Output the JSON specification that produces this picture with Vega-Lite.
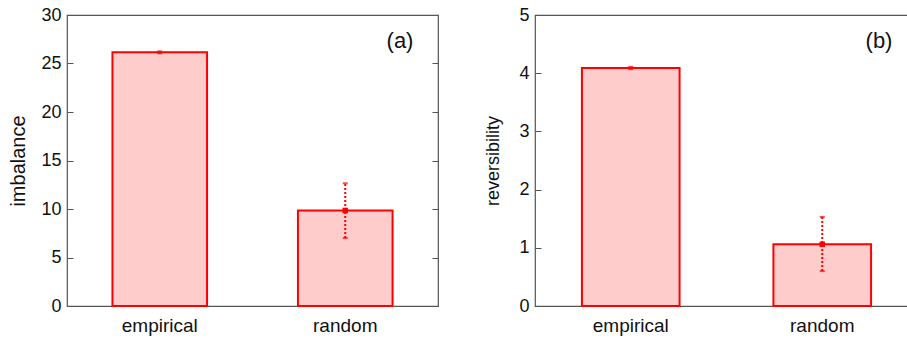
{
  "$schema": "https://vega.github.io/schema/vega-lite/v6.json",
  "padding": {"left": 8, "top": 5, "right": 0, "bottom": 0},
  "background": "white",
  "config": {
    "font": "Liberation Sans",
    "view": {"stroke": "#555555", "strokeWidth": 1.2},
    "axis": {"grid": false, "labelFont": "Liberation Sans", "titleFont": "Liberation Sans", "labelColor": "#111", "titleColor": "#111"},
    "concat": {"spacing": 44}
  },
  "datasets": {
    "bars": [
      {"panel": "a", "cat": "empirical", "value": 26.15, "lo": 26.05, "hi": 26.25},
      {"panel": "a", "cat": "random", "value": 9.85, "lo": 7.0, "hi": 12.65},
      {"panel": "b", "cat": "empirical", "value": 4.09, "lo": 4.07, "hi": 4.11},
      {"panel": "b", "cat": "random", "value": 1.06, "lo": 0.6, "hi": 1.53}
    ],
    "labels": [
      {"panel": "a", "label": "(a)"},
      {"panel": "b", "label": "(b)"}
    ]
  },
  "hconcat": [
    {
      "width": 371,
      "height": 291,
      "resolve": {"axis": {"y": "independent"}},
      "layer": [
        {
          "data": {"name": "bars"},
          "transform": [{"filter": "datum.panel == 'a'"}],
          "mark": {"type": "bar", "fill": "#ffcccc", "stroke": "#ff0000", "strokeWidth": 2},
          "encoding": {
            "x": {"field": "cat", "type": "nominal", "scale": {"paddingInner": 0.49, "paddingOuter": 0.245}, "axis": {"title": null, "labelAngle": 0, "ticks": false, "domain": false, "labelFontSize": 19, "labelPadding": 10}},
            "y": {"field": "value", "type": "quantitative", "scale": {"domain": [0, 30], "nice": false}, "axis": {"title": "imbalance", "titleFontSize": 20, "titleFontWeight": "normal", "labelFontSize": 18, "values": [0, 5, 10, 15, 20, 25, 30], "tickSize": -6, "tickColor": "#555", "domain": false, "labelPadding": 12, "titlePadding": 12}}
          }
        },
        {
          "data": {"name": "bars"},
          "transform": [{"filter": "datum.panel == 'a'"}],
          "mark": {"type": "rule", "stroke": "#ff0000", "strokeWidth": 2, "strokeDash": [2, 2]},
          "encoding": {
            "x": {"field": "cat", "type": "nominal"},
            "y": {"field": "lo", "type": "quantitative", "axis": {"orient": "right", "title": null, "labels": false, "values": [0, 5, 10, 15, 20, 25, 30], "tickSize": -6, "tickColor": "#555", "domain": false}},
            "y2": {"field": "hi"}
          }
        },
        {
          "data": {"name": "bars"},
          "transform": [{"filter": "datum.panel == 'a'"}],
          "mark": {"type": "tick", "color": "#ff0000", "thickness": 2, "size": 5, "orient": "horizontal"},
          "encoding": {
            "x": {"field": "cat", "type": "nominal"},
            "y": {"field": "lo", "type": "quantitative", "axis": null}
          }
        },
        {
          "data": {"name": "bars"},
          "transform": [{"filter": "datum.panel == 'a'"}],
          "mark": {"type": "tick", "color": "#ff0000", "thickness": 2, "size": 5, "orient": "horizontal"},
          "encoding": {
            "x": {"field": "cat", "type": "nominal"},
            "y": {"field": "hi", "type": "quantitative", "axis": null}
          }
        },
        {
          "data": {"name": "bars"},
          "transform": [{"filter": "datum.panel == 'a' && datum.cat == 'random'"}],
          "mark": {"type": "point", "shape": "square", "filled": true, "color": "#ff0000", "size": 30, "opacity": 1},
          "encoding": {
            "x": {"field": "cat", "type": "nominal"},
            "y": {"field": "value", "type": "quantitative", "axis": null}
          }
        },
        {
          "data": {"name": "labels"},
          "transform": [{"filter": "datum.panel == 'a'"}],
          "mark": {"type": "text", "fontSize": 22, "align": "center", "baseline": "middle", "color": "#111"},
          "encoding": {
            "x": {"value": 333},
            "y": {"value": 26},
            "text": {"field": "label"}
          }
        }
      ]
    },
    {
      "width": 383,
      "height": 291,
      "resolve": {"axis": {"y": "independent"}},
      "layer": [
        {
          "data": {"name": "bars"},
          "transform": [{"filter": "datum.panel == 'b'"}],
          "mark": {"type": "bar", "fill": "#ffcccc", "stroke": "#ff0000", "strokeWidth": 2},
          "encoding": {
            "x": {"field": "cat", "type": "nominal", "scale": {"paddingInner": 0.49, "paddingOuter": 0.245}, "axis": {"title": null, "labelAngle": 0, "ticks": false, "domain": false, "labelFontSize": 19, "labelPadding": 10}},
            "y": {"field": "value", "type": "quantitative", "scale": {"domain": [0, 5], "nice": false}, "axis": {"title": "reversibility", "titleFontSize": 18, "titleFontWeight": "normal", "labelFontSize": 18, "values": [0, 1, 2, 3, 4, 5], "tickSize": -6, "tickColor": "#555", "domain": false, "labelPadding": 12, "titlePadding": 16}}
          }
        },
        {
          "data": {"name": "bars"},
          "transform": [{"filter": "datum.panel == 'b'"}],
          "mark": {"type": "rule", "stroke": "#ff0000", "strokeWidth": 2, "strokeDash": [2, 2]},
          "encoding": {
            "x": {"field": "cat", "type": "nominal"},
            "y": {"field": "lo", "type": "quantitative", "axis": {"orient": "right", "title": null, "labels": false, "values": [0, 1, 2, 3, 4, 5], "tickSize": -6, "tickColor": "#555", "domain": false}},
            "y2": {"field": "hi"}
          }
        },
        {
          "data": {"name": "bars"},
          "transform": [{"filter": "datum.panel == 'b'"}],
          "mark": {"type": "tick", "color": "#ff0000", "thickness": 2, "size": 5, "orient": "horizontal"},
          "encoding": {
            "x": {"field": "cat", "type": "nominal"},
            "y": {"field": "lo", "type": "quantitative", "axis": null}
          }
        },
        {
          "data": {"name": "bars"},
          "transform": [{"filter": "datum.panel == 'b'"}],
          "mark": {"type": "tick", "color": "#ff0000", "thickness": 2, "size": 5, "orient": "horizontal"},
          "encoding": {
            "x": {"field": "cat", "type": "nominal"},
            "y": {"field": "hi", "type": "quantitative", "axis": null}
          }
        },
        {
          "data": {"name": "bars"},
          "transform": [{"filter": "datum.panel == 'b' && datum.cat == 'random'"}],
          "mark": {"type": "point", "shape": "square", "filled": true, "color": "#ff0000", "size": 30, "opacity": 1},
          "encoding": {
            "x": {"field": "cat", "type": "nominal"},
            "y": {"field": "value", "type": "quantitative", "axis": null}
          }
        },
        {
          "data": {"name": "labels"},
          "transform": [{"filter": "datum.panel == 'b'"}],
          "mark": {"type": "text", "fontSize": 22, "align": "center", "baseline": "middle", "color": "#111"},
          "encoding": {
            "x": {"value": 344},
            "y": {"value": 26},
            "text": {"field": "label"}
          }
        }
      ]
    }
  ]
}
